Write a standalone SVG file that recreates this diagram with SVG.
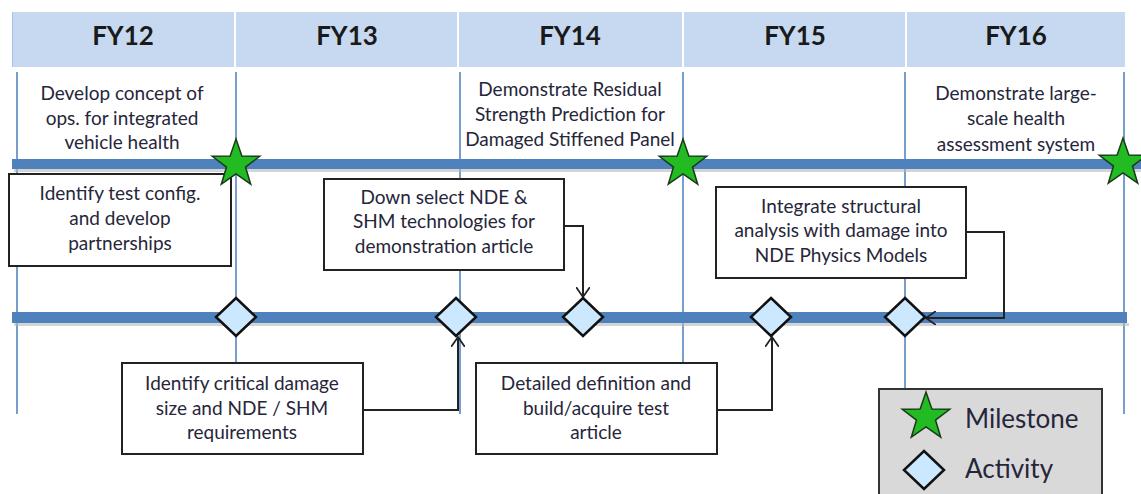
<svg xmlns="http://www.w3.org/2000/svg" width="1141" height="494" viewBox="0 0 1141 494">
<style>
.hdr{fill:#c6d9f0}
.fy{font-family:Lato,"Liberation Sans",sans-serif;font-weight:bold;font-size:26px;fill:#1a1a1a;text-anchor:middle}
.t{font-family:Lato,"Liberation Sans",sans-serif;font-size:19px;fill:#26263a;text-anchor:middle}
.lg{font-family:Lato,"Liberation Sans",sans-serif;font-size:26px;fill:#26263a}
.vl{stroke:#4a7ebb;stroke-width:1.5}
.bar{fill:#4f81bd}
.sh{fill:#b8b8b8;opacity:0.6}
.box{fill:#fff;stroke:#222;stroke-width:2}
.star{fill:#22bb22;stroke:#1a3a1a;stroke-width:1.5}
.dia{fill:#cce8ff;stroke:#111;stroke-width:2.5}
.con{fill:none;stroke:#222;stroke-width:2}
</style>
<defs>
<path id="star" d="M0,-25 L5.88,-8.09 L23.78,-7.73 L9.51,3.09 L14.69,20.23 L0,10 L-14.69,20.23 L-9.51,3.09 L-23.78,-7.73 L-5.88,-8.09 Z"/>
<path id="dia" d="M0,-19 L20,0 L0,19 L-20,0 Z"/>
<marker id="arr" markerWidth="12" markerHeight="14" refX="10" refY="7" orient="auto" markerUnits="userSpaceOnUse">
<path d="M0,0 L10,7 L0,14" fill="none" stroke="#222" stroke-width="1.8"/>
</marker>
</defs>
<rect width="1141" height="494" fill="#fff"/>
<g id="header">
<rect class="hdr" x="12" y="12" width="222" height="55"/>
<rect class="hdr" x="236" y="12" width="221" height="55"/>
<rect class="hdr" x="459" y="12" width="223" height="55"/>
<rect class="hdr" x="684" y="12" width="221" height="55"/>
<rect class="hdr" x="907" y="12" width="218" height="55"/>
<line x1="12.5" y1="12" x2="12.5" y2="67" stroke="#a9c0de" stroke-width="1"/>
<text class="fy" x="123" y="45">FY12</text>
<text class="fy" x="347" y="45">FY13</text>
<text class="fy" x="570" y="45">FY14</text>
<text class="fy" x="795" y="45">FY15</text>
<text class="fy" x="1016" y="45">FY16</text>
</g>
<g id="gridlines">
<line class="vl" x1="17" y1="72" x2="17" y2="414"/>
<line class="vl" x1="236" y1="72" x2="236" y2="414"/>
<line class="vl" x1="460" y1="72" x2="460" y2="414"/>
<line class="vl" x1="683" y1="72" x2="683" y2="414"/>
<line class="vl" x1="905" y1="72" x2="905" y2="414"/>
<line class="vl" x1="1124" y1="72" x2="1124" y2="414"/>
</g>
<g id="bars">
<rect class="sh" x="14" y="169" width="1127" height="3"/>
<rect class="bar" x="12" y="159" width="1129" height="10"/>
<rect class="sh" x="14" y="323" width="1115" height="3"/>
<rect class="bar" x="12" y="312" width="1115" height="11"/>
</g>
<g id="milestone-texts">
<text class="t" x="122" y="100">Develop concept of</text>
<text class="t" x="122" y="124.5">ops. for integrated</text>
<text class="t" x="122" y="149">vehicle health</text>
<text class="t" x="570" y="96">Demonstrate Residual</text>
<text class="t" x="570" y="121">Strength Prediction  for</text>
<text class="t" x="570" y="146">Damaged Stiffened Panel</text>
<text class="t" x="1016" y="100">Demonstrate large-</text>
<text class="t" x="1016" y="125">scale health</text>
<text class="t" x="1016" y="151">assessment system</text>
</g>
<g id="box1">
<rect class="box" x="9" y="174" width="222" height="92"/>
<text class="t" x="120" y="200">Identify test  config.</text>
<text class="t" x="120" y="225">and develop</text>
<text class="t" x="120" y="250">partnerships</text>
</g>
<g id="box2">
<rect class="box" x="324" y="179" width="240" height="91"/>
<text class="t" x="444" y="204">Down select NDE  &amp;</text>
<text class="t" x="444" y="228">SHM technologies for</text>
<text class="t" x="444" y="253">demonstration article</text>
</g>
<g id="box3">
<rect class="box" x="716" y="187" width="250" height="91"/>
<text class="t" x="841" y="213">Integrate structural</text>
<text class="t" x="841" y="237">analysis with  damage  into</text>
<text class="t" x="841" y="262">NDE Physics Models</text>
</g>
<g id="box4">
<rect class="box" x="122" y="363" width="241" height="91"/>
<text class="t" x="242" y="390">Identify critical damage</text>
<text class="t" x="242" y="415">size and   NDE  / SHM</text>
<text class="t" x="242" y="439">requirements</text>
</g>
<g id="box5">
<rect class="box" x="476" y="363" width="241" height="91"/>
<text class="t" x="596" y="390">Detailed definition and</text>
<text class="t" x="596" y="415">build/acquire test</text>
<text class="t" x="596" y="439">article</text>
</g>
<g id="connectors">
<polyline class="con" points="564,226 583,226 583,297" marker-end="url(#arr)"/>
<polyline class="con" points="966,232 1004,232 1004,318 926,318" marker-end="url(#arr)"/>
<polyline class="con" points="363,410 458,410 458,337" marker-end="url(#arr)"/>
<polyline class="con" points="717,410 772,410 772,337" marker-end="url(#arr)"/>
</g>
<g id="milestones">
<use href="#star" class="star" x="236" y="164"/>
<use href="#star" class="star" x="683" y="164"/>
<use href="#star" class="star" x="1123" y="163"/>
</g>
<g id="activities">
<use href="#dia" class="dia" x="236" y="317"/>
<use href="#dia" class="dia" x="456" y="317"/>
<use href="#dia" class="dia" x="583" y="317"/>
<use href="#dia" class="dia" x="771" y="317"/>
<use href="#dia" class="dia" x="905" y="317"/>
</g>
<g id="legend">
<rect x="879" y="389" width="223" height="112" fill="#d9d9d9" stroke="#333" stroke-width="2"/>
<use href="#star" class="star" x="926" y="417"/>
<text class="lg" x="965" y="428">Milestone</text>
<use href="#dia" class="dia" x="924" y="470"/>
<text class="lg" x="965" y="478">Activity</text>
</g>
</svg>
